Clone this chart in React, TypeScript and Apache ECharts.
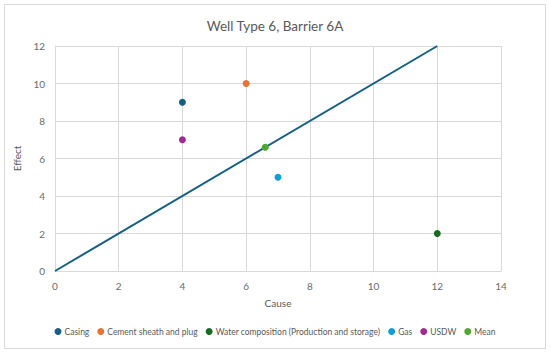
import React, { useEffect, useRef } from "react";
import * as echarts from "echarts";

const seriesNames = ["Casing", "Cement sheath and plug", "Water composition (Production and storage)", "Gas", "USDW", "Mean"];
const seriesColors = ["#156082", "#E97132", "#196B24", "#0F9ED5", "#A02B93", "#4EA72E"];
const causeValues = [4, 6, 12, 7, 4, 6.6];
const effectValues = [9, 10, 2, 5, 7, 6.6];
const refLine = [[0, 0], [12, 12]];

export default function App() {
  const ref = useRef<HTMLDivElement>(null);
  useEffect(() => {
    const chart = echarts.init(ref.current!, null, { renderer: "svg" });
    const font = "Lato, 'Noto Sans', sans-serif";
    const scatter = seriesNames.map((n, i) => ({
      name: n,
      type: "scatter",
      data: [[causeValues[i], effectValues[i]]],
      symbolSize: 7,
      itemStyle: { color: seriesColors[i], opacity: 1 },
      z: 3,
    }));
    chart.setOption({
      animation: false,
      backgroundColor: "#fff",
      textStyle: { fontFamily: font },
      title: {
        text: "Well Type 6, Barrier 6A",
        left: "center",
        top: 14,
        textStyle: { fontSize: 13.5, fontWeight: "normal", color: "#595959", fontFamily: font },
      },
      grid: { left: 55, right: 49, top: 46, bottom: 84 },
      xAxis: {
        type: "value",
        min: 0,
        max: 14,
        interval: 2,
        name: "Cause",
        nameLocation: "middle",
        nameGap: 27,
        nameTextStyle: { fontSize: 10, color: "#595959" },
        axisLine: { show: true, lineStyle: { color: "#d9d9d9" } },
        axisTick: { show: false },
        axisLabel: { fontSize: 10, color: "#6a6a6a", margin: 10 },
        splitLine: { show: true, lineStyle: { color: "#d9d9d9" } },
      },
      yAxis: {
        type: "value",
        min: 0,
        max: 12,
        interval: 2,
        name: "Effect",
        nameLocation: "middle",
        nameGap: 24,
        nameTextStyle: { fontSize: 10, color: "#595959" },
        axisLine: { show: true, lineStyle: { color: "#d9d9d9" } },
        axisTick: { show: false },
        axisLabel: { fontSize: 10, color: "#6a6a6a", margin: 10 },
        splitLine: { show: true, lineStyle: { color: "#d9d9d9" } },
      },
      legend: {
        data: seriesNames,
        bottom: 14,
        left: "center",
        icon: "circle",
        itemWidth: 7,
        itemHeight: 7,
        itemGap: 8,
        textStyle: { fontSize: 8.5, color: "#595959", padding: [0, 0, 0, -2] },
      },
      graphic: [
        {
          type: "rect",
          shape: { x: 4.5, y: 4.5, width: 541, height: 344 },
          style: { fill: "none", stroke: "#d9d9d9", lineWidth: 1 },
          silent: true,
        },
      ],
      series: [
        {
          name: "ref",
          type: "line",
          data: refLine,
          showSymbol: false,
          lineStyle: { color: "#156082", width: 2 },
          itemStyle: { color: "#156082" },
          z: 2,
        },
        ...scatter,
      ],
    });
    return () => chart.dispose();
  }, []);
  return <div ref={ref} style={{ position: "absolute", left: 0, top: 0, width: 550, height: 355 }} />;
}
